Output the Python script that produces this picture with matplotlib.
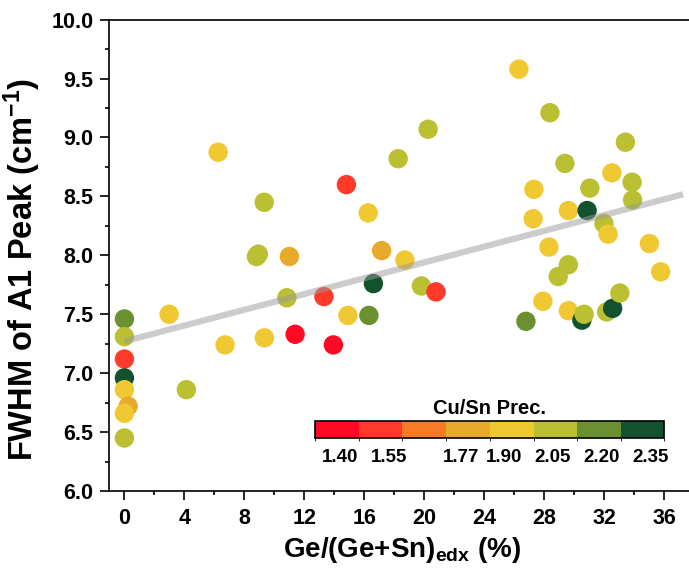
import matplotlib
matplotlib.use('Agg')
import matplotlib.pyplot as plt
import numpy as np
from matplotlib.colors import ListedColormap, BoundaryNorm
from matplotlib.cm import ScalarMappable
from matplotlib.ticker import MultipleLocator, FormatStrFormatter

plt.rcParams['font.family'] = ['Liberation Sans', 'DejaVu Sans']
plt.rcParams['font.weight'] = 'bold'
plt.rcParams['mathtext.fontset'] = 'custom'
plt.rcParams['mathtext.rm'] = 'Liberation Sans:bold'
plt.rcParams['mathtext.it'] = 'Liberation Sans:bold'
plt.rcParams['mathtext.bf'] = 'Liberation Sans:bold'

# Ge/(Ge+Sn) from EDX (%)
ge_ratio = [0, 0, 0, 0, 0, 0.25, 0, 0,
            2.98, 4.13, 6.25, 6.71, 8.8, 8.93, 9.32, 9.33, 10.83, 11.0,
            11.38, 13.3, 13.93, 14.8, 14.9, 16.25, 16.3, 16.6, 17.15, 18.25,
            18.7, 19.8, 20.25, 20.77, 26.3, 26.77, 27.25, 27.3, 27.9, 28.3,
            28.37, 28.92, 29.37, 29.6, 29.6, 29.6, 30.5, 30.65, 30.85, 31.03,
            31.97, 32.15, 32.25, 32.5, 32.55, 33.03, 33.4, 33.85, 33.88, 35.0,
            35.75]
# FWHM of A1 peak (cm-1)
fwhm = [7.46, 7.31, 7.12, 6.96, 6.86, 6.72, 6.66, 6.45,
        7.50, 6.86, 8.875, 7.24, 7.99, 8.01, 8.45, 7.30, 7.64, 7.99,
        7.33, 7.65, 7.24, 8.60, 7.49, 8.36, 7.49, 7.76, 8.04, 8.82,
        7.96, 7.74, 9.07, 7.69, 9.58, 7.44, 8.31, 8.56, 7.61, 8.07,
        9.21, 7.82, 8.78, 8.38, 7.92, 7.53, 7.45, 7.50, 8.38, 8.57,
        8.27, 7.52, 8.18, 8.70, 7.55, 7.68, 8.96, 8.62, 8.47, 8.10,
        7.86]
# Cu/Sn precursor ratio
cu_sn = [2.20, 2.05, 1.52, 2.35, 1.90, 1.77, 1.90, 2.05,
         1.90, 2.05, 1.90, 1.90, 2.05, 2.05, 2.05, 1.90, 2.05, 1.77,
         1.40, 1.52, 1.40, 1.52, 1.90, 1.90, 2.20, 2.35, 1.77, 2.05,
         1.90, 2.05, 2.05, 1.52, 1.90, 2.20, 1.90, 1.90, 1.90, 1.90,
         2.05, 2.05, 2.05, 1.90, 2.05, 1.90, 2.35, 2.05, 2.35, 2.05,
         2.05, 2.05, 1.90, 1.90, 2.35, 2.05, 2.05, 2.05, 2.05, 1.90,
         1.90]

# linear trend as shown in the figure
fit_intercept = 7.27
fit_slope = 0.0335
fit_range = [0, 37.25]

cbar_bounds = [1.323, 1.457, 1.59, 1.725, 1.857, 1.992, 2.124, 2.259, 2.39]
cbar_colors = ['#FF0A25', '#FF3A2A', '#F87A26', '#E8AA2A',
               '#F0C832', '#BAC032', '#6A9030', '#13522E']
cbar_ticks = [1.40, 1.55, 1.77, 1.90, 2.05, 2.20, 2.35]

cmap = ListedColormap(cbar_colors)
norm = BoundaryNorm(cbar_bounds, cmap.N)

fig = plt.figure(figsize=(6.89, 5.77), dpi=100)
ax = fig.add_axes([0.1588, 0.149, 0.849, 0.817])

ax.scatter(ge_ratio, fwhm, c=cu_sn, cmap=cmap, norm=norm, s=195,
           edgecolors='none', zorder=2)

xfit = np.array(fit_range)
ax.plot(xfit, fit_intercept + fit_slope * xfit, color='#9a9a9a', lw=4.5,
        alpha=0.5, solid_capstyle='butt', zorder=3)

ax.set_xlim(-1, 38)
ax.set_ylim(6, 10)
ax.xaxis.set_major_locator(MultipleLocator(4))
ax.xaxis.set_minor_locator(MultipleLocator(2))
ax.yaxis.set_major_locator(MultipleLocator(0.5))
ax.yaxis.set_minor_locator(MultipleLocator(0.25))
ax.yaxis.set_major_formatter(FormatStrFormatter('%.1f'))
ax.tick_params(which='major', direction='out', length=6.5, width=1.2,
               labelsize=15.5, pad=5)
ax.tick_params(which='minor', direction='out', length=3.2, width=1.2)
ax.tick_params(axis='x', which='major', pad=6)
for s in ax.spines.values():
    s.set_linewidth(1.2)
ax.spines['right'].set_visible(False)

ax.set_xlabel(r'Ge/(Ge+Sn)$_{\mathrm{edx}}$ (%)', fontsize=20, fontweight='bold',
              labelpad=4)
ax.set_ylabel(r'FWHM of A1 Peak (cm$^{\mathrm{-1}}$)', fontsize=23.5,
              fontweight='bold', labelpad=6)
ax.yaxis.label.set_y(0.47)

# colorbar
cax = fig.add_axes([315 / 689, (577 - 438) / 577, (664 - 315) / 689, 17 / 577])
cb = fig.colorbar(ScalarMappable(norm=norm, cmap=cmap), cax=cax,
                  orientation='horizontal', spacing='proportional',
                  ticks=cbar_ticks)
cb.ax.set_xticklabels(['%.2f' % t for t in cbar_ticks])
cb.ax.tick_params(length=0, labelsize=13.5, pad=8)
cb.outline.set_linewidth(1.2)
cb.ax.set_title('Cu/Sn Prec.', fontsize=14.5, fontweight='bold', pad=5)

fig.savefig('out.png', dpi=100)
